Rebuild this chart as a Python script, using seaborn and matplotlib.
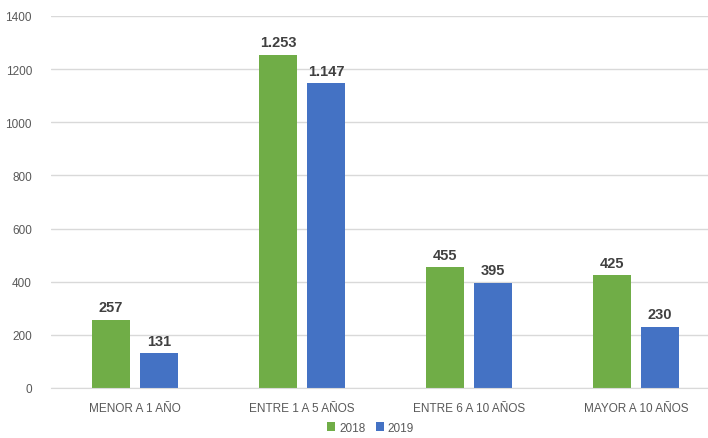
import matplotlib
matplotlib.use("Agg")
import matplotlib.pyplot as plt
import seaborn as sns
import pandas as pd

# datos
categorias = ["MENOR A 1 AÑO", "ENTRE 1 A 5 AÑOS", "ENTRE 6 A 10 AÑOS", "MAYOR A 10 AÑOS"]
anios = ["2018", "2019"]
valores_2018 = [257, 1253, 455, 425]
valores_2019 = [131, 1147, 395, 230]
colores = ["#70AD47", "#4472C4"]

df = pd.DataFrame({
    "categoria": categorias * 2,
    "anio": [anios[0]] * 4 + [anios[1]] * 4,
    "valor": valores_2018 + valores_2019,
})

sns.set_style("white")
plt.rcParams["font.family"] = ["Liberation Sans", "DejaVu Sans"]

fig = plt.figure(figsize=(7.08, 4.39), dpi=100)
ax = fig.add_axes([0.0727, 0.1139, 0.9273, 0.8474])

sns.barplot(data=df, x="categoria", y="valor", hue="anio", palette=colores,
            width=0.575, gap=0.21, ax=ax, legend=True, saturation=1, linewidth=0)

# etiquetas de datos con separador de miles
for cont in ax.containers:
    etiquetas = [f"{int(v):,}".replace(",", ".") for v in cont.datavalues]
    ax.bar_label(cont, labels=etiquetas, padding=4, fontsize=10.5,
                 fontweight="bold", color="#404040")

ax.set_ylim(0, 1400)
ax.set_yticks(range(0, 1401, 200))
ax.set_xlim(-0.5, 3.43)
ax.yaxis.grid(True, color="#d9d9d9", linewidth=1)
ax.set_axisbelow(True)
for s in ["top", "right", "left"]:
    ax.spines[s].set_visible(False)
ax.spines["bottom"].set_color("#d9d9d9")
ax.tick_params(axis="both", length=0, labelsize=8.5, colors="#595959")
ax.tick_params(axis="x", pad=10)
ax.tick_params(axis="y", pad=14)
ax.set_xlabel("")
ax.set_ylabel("")

ax.legend(loc="lower center", bbox_to_anchor=(0.486, -0.145), ncol=2, frameon=False,
          fontsize=8.5, handlelength=0.7, handleheight=0.7, handletextpad=0.3,
          columnspacing=0.9, labelcolor="#595959", borderpad=0.2)

fig.savefig("out.png", dpi=100)
